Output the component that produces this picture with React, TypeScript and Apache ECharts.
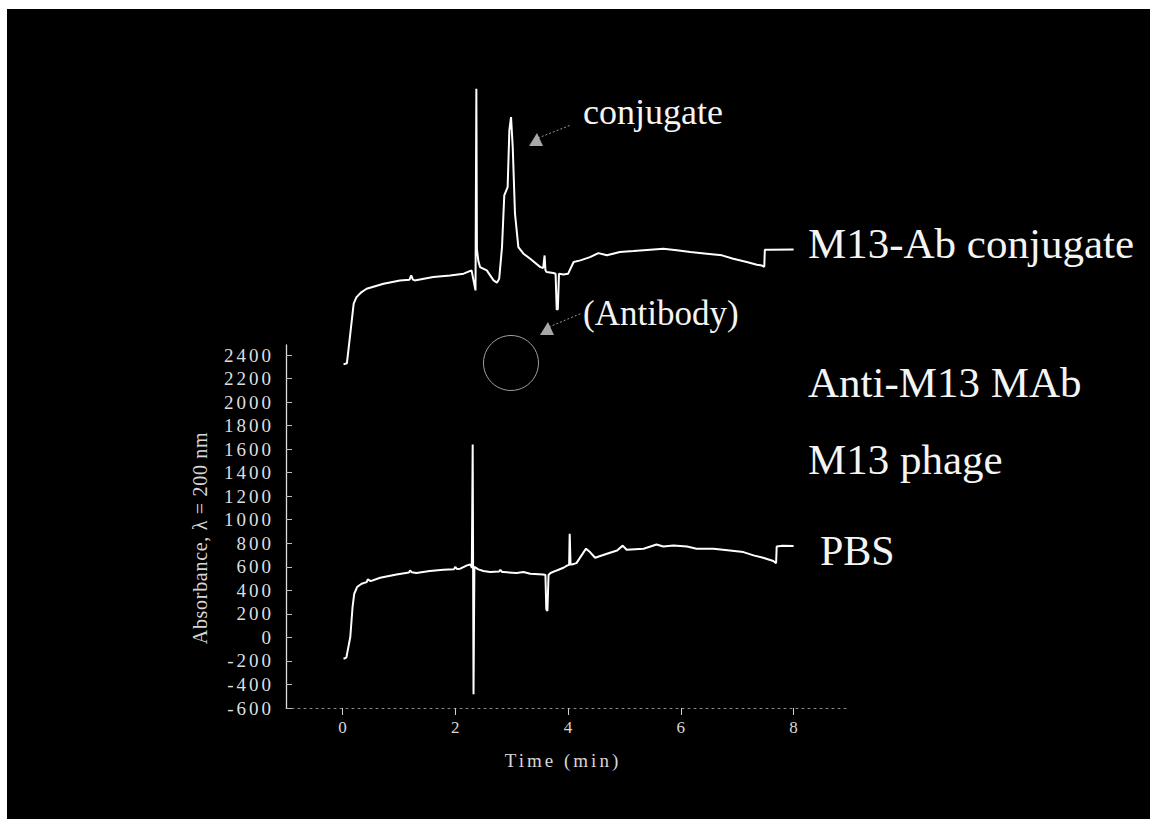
import React, { useEffect, useRef } from "react";
import * as echarts from "echarts";

// Elution time (min) and absorbance readings for the PBS blank run
const pbsTime = [
  0.02, 0.07, 0.14, 0.18, 0.21, 0.26, 0.34, 0.43, 0.45, 0.5, 0.67, 0.96, 1.18, 1.2, 1.23, 1.31,
  1.55, 1.79, 1.98, 2.0, 2.03, 2.09, 2.21, 2.27, 2.295, 2.31, 2.325, 2.34, 2.41, 2.5, 2.62, 2.78,
  2.8, 2.83, 2.86, 3.09, 3.21, 3.33, 3.56, 3.6, 3.615, 3.635, 3.655, 3.69, 3.8, 3.92, 3.99, 4.02,
  4.03, 4.045, 4.07, 4.15, 4.24, 4.32, 4.39, 4.48, 4.69, 4.87, 4.97, 5.04, 5.34, 5.57, 5.69, 5.87,
  6.11, 6.28, 6.58, 6.87, 7.11, 7.29, 7.46, 7.64, 7.69, 7.7, 7.8, 8.0,
];
const pbsAbs = [
  -181, -172, 3, 258, 371, 428, 456, 470, 493, 478, 507, 535, 552, 569, 553, 547,
  564, 575, 580, 598, 582, 584, 612, 620, 590, 1640, -484, 600, 578, 564, 555, 560,
  575, 556, 555, 547, 555, 541, 535, 530, 240, 224, 530, 547, 569, 592, 612, 615,
  881, 620, 620, 631, 697, 754, 725, 677, 711, 739, 780, 745, 754, 790, 773, 782,
  773, 754, 754, 739, 725, 697, 677, 649, 631, 773, 778, 776,
];

// Elution time (min) and absorbance readings for the M13-Ab conjugate run (offset trace)
const conjTime = [
  0.02, 0.08, 0.14, 0.2, 0.25, 0.34, 0.43, 0.73, 1.02, 1.19, 1.22, 1.25, 1.28, 1.61, 1.91, 2.15,
  2.29, 2.36, 2.375, 2.385, 2.41, 2.44, 2.56, 2.68, 2.74, 2.78, 2.83, 2.87, 2.93, 2.96, 2.99, 3.02,
  3.06, 3.12, 3.21, 3.33, 3.51, 3.56, 3.585, 3.6, 3.62, 3.74, 3.78, 3.8, 3.82, 3.84, 3.92, 4.0,
  4.1, 4.22, 4.39, 4.54, 4.69, 4.92, 5.16, 5.46, 5.69, 5.93, 6.17, 6.46, 6.73, 6.93, 7.17, 7.35,
  7.44, 7.48, 7.49, 7.58, 8.0,
];
const conjAbs = [
  2320, 2330, 2581, 2836, 2892, 2935, 2963, 3006, 3034, 3040, 3076, 3040, 3034, 3062, 3076, 3091,
  3119, 2949, 4663, 3300, 3200, 3147, 3119, 3034, 3015, 3048, 3317, 3756, 3827, 4309, 4422, 4167,
  3601, 3317, 3261, 3218, 3147, 3140, 3246, 3120, 3105, 3097, 3090, 2785, 2790, 3090, 3085, 3090,
  3190, 3204, 3232, 3266, 3247, 3275, 3283, 3295, 3303, 3290, 3275, 3261, 3247, 3218, 3190, 3167,
  3160, 3150, 3295, 3295, 3297,
];

const yTickValues = [-600, -400, -200, 0, 200, 400, 600, 800, 1000, 1200, 1400, 1600, 1800, 2000, 2200, 2400];
const xTickValues = [0, 2, 4, 6, 8];

const traceLabels = ["M13-Ab conjugate", "Anti-M13 MAb", "M13 phage", "PBS"];

const zip = (t: number[], v: number[]) => t.map((x, i) => [x, v[i]]);

const SERIF = "Liberation Serif, Times New Roman, serif";

export default function App() {
  const ref = useRef<HTMLDivElement>(null);

  useEffect(() => {
    if (!ref.current) return;
    const chart = echarts.init(ref.current, undefined, { renderer: "svg" });

    const label = (text: string, x: number, y: number, size: number) => ({
      type: "text",
      x,
      y,
      silent: true,
      style: {
        text,
        fill: "#f4f4f4",
        fontSize: size,
        fontFamily: SERIF,
        align: "left",
        verticalAlign: "middle",
      },
    });

    chart.setOption({
      animation: false,
      backgroundColor: "#000",
      grid: { left: 279, top: 336, width: 564, height: 363, containLabel: false },
      xAxis: {
        type: "value",
        min: -1,
        max: 9,
        axisLine: { show: true, onZero: false, lineStyle: { color: "#8a8a8a", width: 1, type: [2, 4] } },
        axisTick: {
          show: true,
          inside: false,
          length: 7,
          customValues: xTickValues,
          lineStyle: { color: "#cfcfcf", width: 1 },
        },
        axisLabel: {
          customValues: xTickValues,
          formatter: (v: number) => String(v),
          color: "#d8d8d8",
          fontFamily: SERIF,
          fontSize: 17,
          margin: 11,
        },
        splitLine: { show: false },
      },
      yAxis: {
        type: "value",
        min: -600,
        max: 2485,
        axisLine: { show: true, onZero: false, lineStyle: { color: "#dcdcdc", width: 1.3 } },
        axisTick: {
          show: true,
          inside: true,
          length: 6,
          customValues: yTickValues,
          lineStyle: { color: "#bdbdbd", width: 1 },
        },
        axisLabel: {
          customValues: yTickValues,
          formatter: (v: number) => String(v),
          color: "#dedede",
          fontFamily: SERIF,
          fontSize: 19,
          margin: 12,
        },
        splitLine: { show: false },
      },
      series: [
        {
          name: traceLabels[0],
          type: "line",
          data: zip(conjTime, conjAbs),
          showSymbol: false,
          clip: false,
          lineStyle: { color: "#ffffff", width: 2 },
          z: 3,
        },
        {
          name: traceLabels[3],
          type: "line",
          data: zip(pbsTime, pbsAbs),
          showSymbol: false,
          clip: false,
          lineStyle: { color: "#ffffff", width: 2 },
          z: 3,
        },
      ],
      graphic: [
        // axis titles
        {
          type: "text",
          x: 193,
          y: 529,
          rotation: Math.PI / 2,
          silent: true,
          style: {
            text: "Absorbance, λ = 200 nm",
            fill: "#d6d6d6",
            fontSize: 20,
            fontFamily: SERIF,
            align: "center",
            verticalAlign: "middle",
          },
        },
        {
          type: "text",
          x: 556,
          y: 751,
          silent: true,
          style: {
            text: "Time (min)",
            fill: "#d6d6d6",
            fontSize: 19,
            fontFamily: SERIF,
            align: "center",
            verticalAlign: "middle",
          },
        },
        // peak annotations
        label("conjugate", 576, 103, 36),
        {
          type: "line",
          silent: true,
          shape: { x1: 531, y1: 129, x2: 564, y2: 116 },
          style: { stroke: "#9a9a9a", lineWidth: 1, lineDash: [2, 2] },
        },
        {
          type: "polygon",
          silent: true,
          shape: { points: [[522, 137], [536, 137], [530, 124]] },
          style: { fill: "#a8a8a8" },
        },
        label("(Antibody)", 576, 304, 35),
        {
          type: "line",
          silent: true,
          shape: { x1: 542, y1: 318, x2: 575, y2: 304 },
          style: { stroke: "#9a9a9a", lineWidth: 1, lineDash: [2, 2] },
        },
        {
          type: "polygon",
          silent: true,
          shape: { points: [[533, 326], [547, 326], [541, 313]] },
          style: { fill: "#a8a8a8" },
        },
        {
          type: "circle",
          silent: true,
          shape: { cx: 504, cy: 354, r: 27.5 },
          style: { fill: "none", stroke: "#a0a0a0", lineWidth: 1 },
        },
        // trace names
        label(traceLabels[0], 801, 234, 43),
        label(traceLabels[1], 801, 373, 43),
        label(traceLabels[2], 801, 450, 43),
        label(traceLabels[3], 813, 542, 42),
      ],
    });

    return () => chart.dispose();
  }, []);

  return (
    <div style={{ position: "fixed", left: 0, top: 0, width: 1150, height: 819, background: "#fff" }}>
      <style>{`
        .hplc text[style*="19px"] { letter-spacing: 3px; }
        .hplc text[style*="20px"] { letter-spacing: 0.7px; }
      `}</style>
      <div
        ref={ref}
        className="hplc"
        style={{ position: "absolute", left: 7, top: 9, width: 1143, height: 810 }}
      />
    </div>
  );
}
